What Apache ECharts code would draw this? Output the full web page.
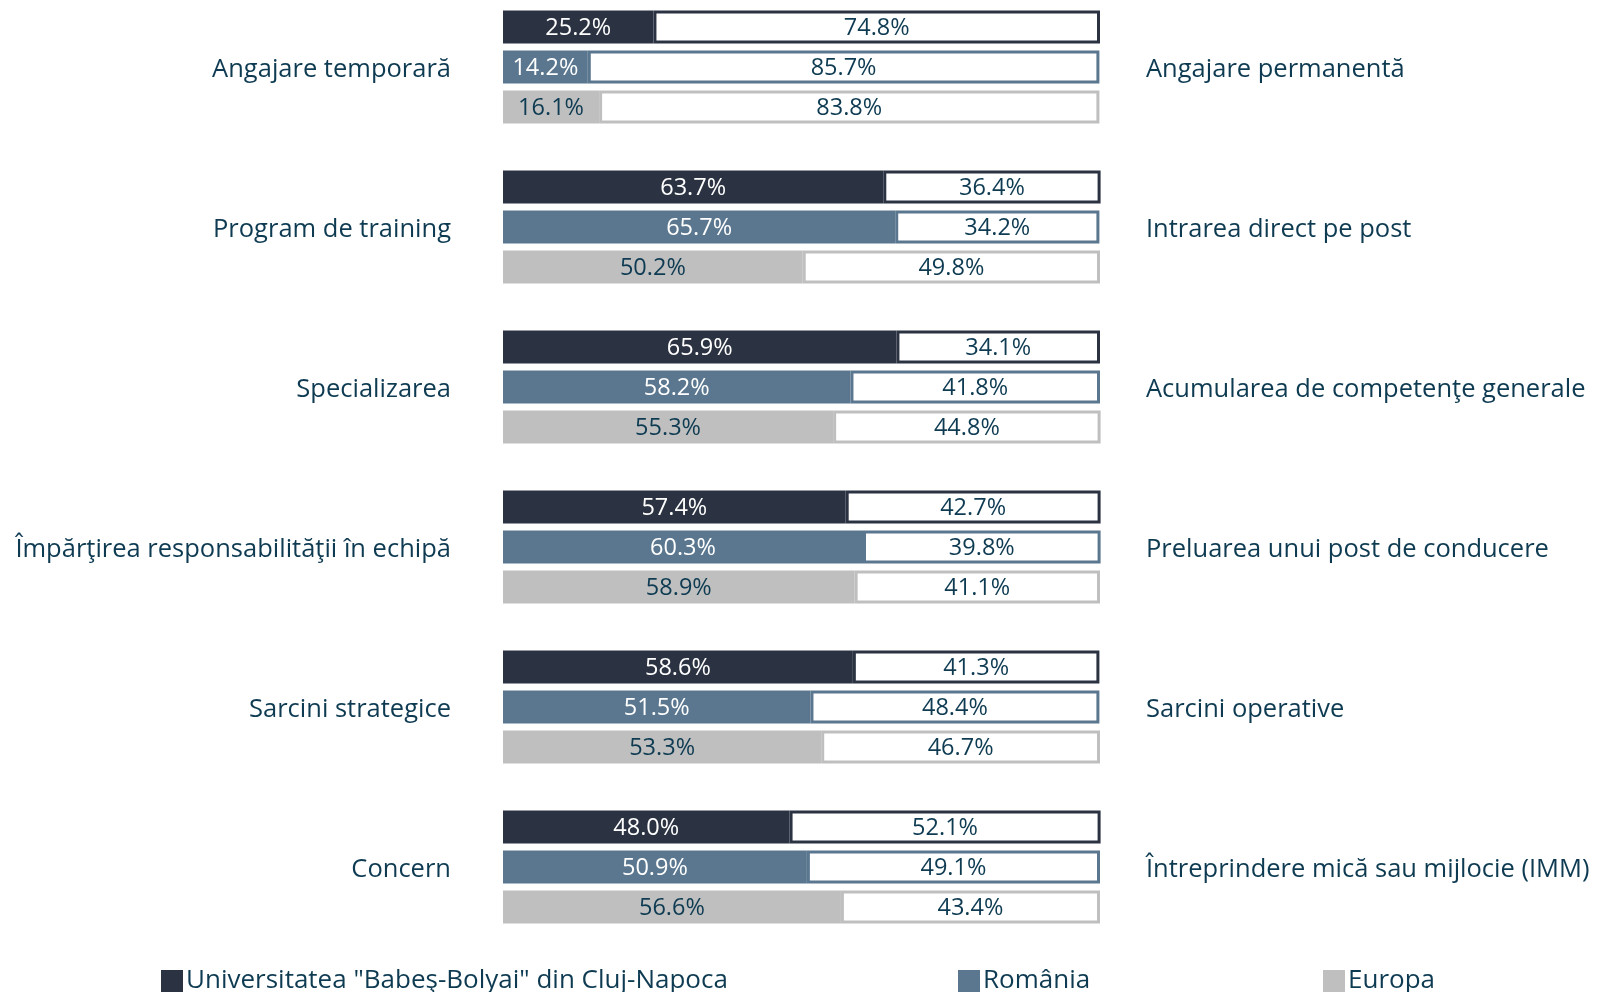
<!DOCTYPE html>
<html>
<head>
<meta charset="utf-8">
<script src="https://cdn.jsdelivr.net/npm/echarts@6/dist/echarts.min.js"></script>
<style>
  html, body { margin: 0; padding: 0; background: #ffffff; }
  #chart { width: 1602px; height: 992px; }
</style>
</head>
<body>
<div id="chart"></div>
<script>
// Pairs of opposite options: left-hand choice vs right-hand choice
const leftCategories = [
  'Angajare temporară',
  'Program de training',
  'Specializarea',
  'Împărţirea responsabilităţii în echipă',
  'Sarcini strategice',
  'Concern'
];
const rightCategories = [
  'Angajare permanentă',
  'Intrarea direct pe post',
  'Acumularea de competenţe generale',
  'Preluarea unui post de conducere',
  'Sarcini operative',
  'Întreprindere mică sau mijlocie (IMM)'
];

// Shares (%) choosing the left option / the right option
const ubbLeft  = [25.2, 63.7, 65.9, 57.4, 58.6, 48.0];
const ubbRight = [74.8, 36.4, 34.1, 42.7, 41.3, 52.1];
const roLeft   = [14.2, 65.7, 58.2, 60.3, 51.5, 50.9];
const roRight  = [85.7, 34.2, 41.8, 39.8, 48.4, 49.1];
const euLeft   = [16.1, 50.2, 55.3, 58.9, 53.3, 56.6];
const euRight  = [83.8, 49.8, 44.8, 41.1, 46.7, 43.4];

const groupNames = ['Universitatea "Babeş-Bolyai" din Cluj-Napoca', 'România', 'Europa'];

const TEXT = '#0e3b52';
const FONT = '"Open Sans", "Noto Sans", sans-serif';
const colors = ['#2b3342', '#5a778f', '#bfbfbf'];
const leftLabelColors = ['#ffffff', '#ffffff', TEXT];

const fmt = p => p.value.toFixed(1) + '%';

const groups = [
  { name: groupNames[0], left: ubbLeft, right: ubbRight },
  { name: groupNames[1], left: roLeft,  right: roRight },
  { name: groupNames[2], left: euLeft,  right: euRight }
];

const BAR_W = 33;
const BAR_GAP = '21%';
const VALUE_FONT = 23.5;
const series = [];
groups.forEach((g, i) => {
  series.push({
    name: g.name,
    type: 'bar',
    stack: 's' + i,
    data: g.left,
    barWidth: BAR_W,
    barGap: BAR_GAP,
    itemStyle: { color: colors[i], borderColor: colors[i], borderWidth: 2 },
    label: { show: true, position: 'inside', formatter: fmt, offset: [0, 1.5],
             color: leftLabelColors[i], fontFamily: FONT, fontSize: VALUE_FONT },
    emphasis: { disabled: true },
    animation: false
  });
});
groups.forEach((g, i) => {
  series.push({
    name: g.name + ' (rest)',
    type: 'bar',
    stack: 's' + i,
    data: g.right,
    barWidth: BAR_W,
    barGap: BAR_GAP,
    itemStyle: { color: '#ffffff', borderColor: colors[i], borderWidth: 3 },
    label: { show: true, position: 'inside', formatter: fmt, offset: [0, 1.5],
             color: TEXT, fontFamily: FONT, fontSize: VALUE_FONT },
    emphasis: { disabled: true },
    animation: false
  });
});

const legendBase = {
  icon: 'rect', itemWidth: 20, itemHeight: 20, itemGap: 5, padding: 0,
  top: 968, selectedMode: false,
  textStyle: { color: TEXT, fontFamily: FONT, fontSize: 26, padding: [0, 0, 0, -1] }
};

// category names sit a little below the group's centre line
const catRich = {
  c: { color: TEXT, fontFamily: FONT, fontSize: 25.5, padding: [6, 0, 0, 0] }
};
const catFmt = v => '{c|' + v + '}';

const chart = echarts.init(document.getElementById('chart'), null, { renderer: 'canvas' });
chart.setOption({
  backgroundColor: '#ffffff',
  animation: false,
  grid: { left: 503, right: 502, top: 67, height: 800, containLabel: false },
  xAxis: {
    type: 'value', min: 0, max: 100, show: false
  },
  yAxis: [
    {
      type: 'category', data: leftCategories, inverse: true, position: 'left',
      boundaryGap: false,
      axisLine: { show: false }, axisTick: { show: false }, splitLine: { show: false },
      axisLabel: { formatter: catFmt, rich: catRich, color: TEXT, fontFamily: FONT,
                   fontSize: 25.5, margin: 52 }
    },
    {
      type: 'category', data: rightCategories, inverse: true, position: 'right',
      boundaryGap: false,
      axisLine: { show: false }, axisTick: { show: false }, splitLine: { show: false },
      axisLabel: { formatter: catFmt, rich: catRich, color: TEXT, fontFamily: FONT,
                   fontSize: 25.5, margin: 46, align: 'left' }
    }
  ],
  legend: [
    Object.assign({}, legendBase, { data: [groupNames[0]], left: 161 }),
    Object.assign({}, legendBase, { data: [groupNames[1]], left: 958 }),
    Object.assign({}, legendBase, { data: [groupNames[2]], left: 1323 })
  ],
  series: series
});
</script>
</body>
</html>
